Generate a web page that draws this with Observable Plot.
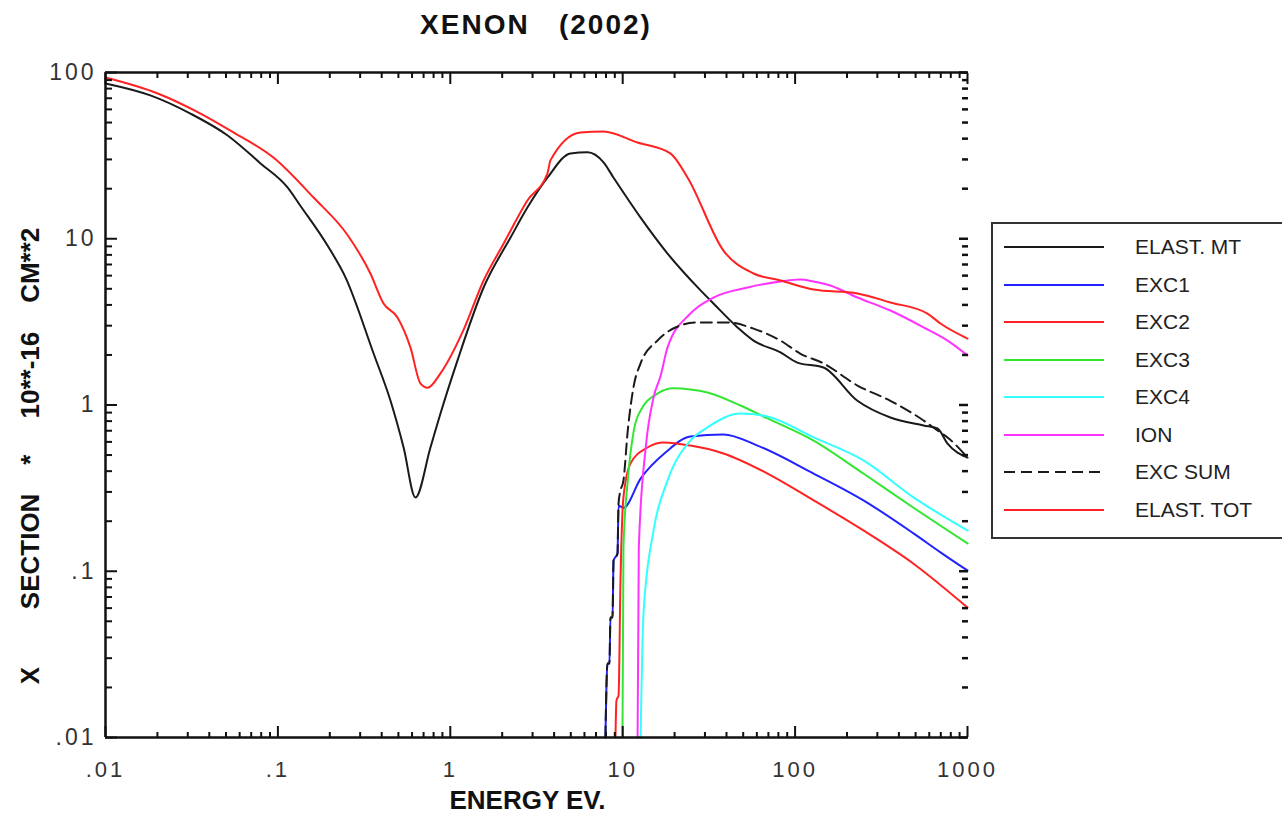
<!DOCTYPE html>
<html>
<head>
<meta charset="utf-8">
<script src="https://cdn.jsdelivr.net/npm/d3@7"></script>
<script src="https://cdn.jsdelivr.net/npm/@observablehq/plot@0.6"></script>
<style>
  body { margin: 0; background: #fff; font-family: "Liberation Sans", Arial, sans-serif; }
  #wrap { position: relative; width: 1282px; height: 819px; overflow: hidden; }
  #title { position: absolute; left: 0; width: 1072px; top: 9px; text-align: center; font-weight: bold; font-size: 28px; letter-spacing: 2px; white-space: pre; color: #111; }
  #plot { position: absolute; left: 0; top: 50px; }
  #legend { position: absolute; left: 991px; top: 222px; width: 290px; height: 313px; border: 2px solid #333; box-sizing: content-box; }
  .row { position: absolute; left: 0; height: 20px; }
  .row svg { position: absolute; left: 10px; top: 0; }
  .row span { position: absolute; left: 142px; top: -2px; font-size: 21px; color: #222; white-space: nowrap; }
  g[aria-label="x-axis tick label"] text { letter-spacing: 3px; }
  g[aria-label="y-axis tick label"] text { letter-spacing: 3px; }
</style>
</head>
<body>
<div id="wrap">
  <div id="title"></div>
  <div id="plot"></div>
  <div id="legend"></div>
</div>
<script>
// ---- texts ----
const sp = n => "\u00A0".repeat(n);
const titleText = "XENON" + sp(3) + "(2002)";
const xTitle = "ENERGY EV.";
const yTitle = "X" + sp(8) + "SECTION" + sp(4) + "*" + sp(5) + "10**-16" + sp(4) + "CM**2";

// ---- tick values and labels ----
const xTickValues = [0.01, 0.1, 1, 10, 100, 1000];
const xTickLabels = [".01", ".1", "1", "10", "100", "1000"];
const yTickValues = [0.01, 0.1, 1, 10, 100];
const yTickLabels = [".01", ".1", "1", "10", "100"];

// ---- series (energy in eV, cross section in 1e-16 cm^2) ----
const seriesNames = ["ELAST. MT", "EXC1", "EXC2", "EXC3", "EXC4", "ION", "EXC SUM", "ELAST. TOT"];
const seriesColors = ["#1a1a1a", "#2222ff", "#ff2222", "#33e633", "#33ffff", "#ff33ff", "#1a1a1a", "#ff2222"];
const seriesDash = [null, null, null, null, null, null, "11,6", null];

const mtE = [0.01,0.0182,0.0311,0.0511,0.0793,0.114,0.135,0.194,0.247,0.359,0.450,0.536,0.628,0.767,0.877,1.10,1.56,2.24,2.80,3.66,4.98,6.25,7.74,8.85,12.7,18.2,28.3,33.6,46.3,57.4,82.3,103,146,230,357,556,670,766,1000];
const mtV = [85.9,72.8,56.6,41.8,28.4,20.3,15.8,9.1,5.84,2.04,1.06,0.555,0.278,0.555,0.889,1.85,5.09,10.2,15.4,23.3,32.6,33.1,28.8,23.3,13.4,8.15,4.89,4.08,2.93,2.44,2.07,1.80,1.68,1.06,0.841,0.753,0.722,0.586,0.483];

const exc1E = [7.94,8.16,8.38,8.49,8.73,8.85,9.33,9.46,10.1,12.7,17.7,24.7,38.4,60.5,128,249,486,697,1000];
const exc1V = [0.01,0.0279,0.0279,0.0527,0.0527,0.116,0.128,0.248,0.241,0.361,0.518,0.647,0.665,0.570,0.387,0.267,0.169,0.130,0.101];

const exc2E = [9.08,9.20,9.46,9.71,10.1,11.1,13.9,17.3,24.7,38.4,69.2,128,249,486,1000];
const exc2V = [0.01,0.0167,0.0179,0.0880,0.278,0.445,0.555,0.595,0.570,0.511,0.387,0.267,0.176,0.111,0.0605];

const exc3E = [9.97,10.1,10.7,11.6,12.7,15.9,19.7,24.7,31.0,48.2,69.2,128,249,486,1000];
const exc3V = [0.01,0.139,0.351,0.703,0.927,1.17,1.26,1.24,1.19,0.993,0.830,0.611,0.387,0.241,0.147];

const exc4E = [12.7,13.2,15.1,18.2,24.7,31.0,48.2,69.2,128,249,486,1000];
const exc4V = [0.01,0.0557,0.176,0.351,0.611,0.733,0.889,0.853,0.638,0.464,0.278,0.176];

const ionE = [12.2,12.4,13.6,15.1,16.6,18.2,24.7,33.6,53.0,82.3,107,128,160,230,357,556,766,1000];
const ionV = [0.01,0.139,0.555,1.11,1.50,2.22,3.55,4.43,5.09,5.53,5.69,5.53,5.23,4.43,3.70,2.93,2.44,1.99];

const sumE = [7.94,8.16,8.38,8.49,8.73,8.85,9.33,9.46,9.71,10.1,10.7,11.6,12.7,15.9,21.6,27.2,40.6,57.4,82.3,107,146,230,357,556,670,766,1000];
const sumV = [0.01,0.0279,0.0279,0.0527,0.0527,0.116,0.128,0.256,0.306,0.351,0.703,1.31,1.78,2.44,3.01,3.14,3.14,2.88,2.44,2.04,1.78,1.31,1.06,0.807,0.703,0.638,0.483];

const totE = [0.01,0.0201,0.0356,0.0552,0.0942,0.161,0.254,0.344,0.410,0.494,0.587,0.671,0.738,0.877,1.19,1.56,2.04,2.80,3.66,3.81,5.69,7.74,12.2,18.9,23.8,38.4,57.4,82.3,128,230,357,586,697,1000];
const totV = [93.3,74.8,56.6,43.6,30.8,17.7,10.5,6.18,4.08,3.36,2.22,1.35,1.27,1.55,2.81,5.61,9.36,17.0,24.7,29.6,43.6,44.2,37.9,32.6,23.3,8.49,6.18,5.61,4.95,4.69,4.14,3.55,3.09,2.51];

const seriesE = [mtE, exc1E, exc2E, exc3E, exc4E, ionE, sumE, totE];
const seriesV = [mtV, exc1V, exc2V, exc3V, exc4V, ionV, sumV, totV];

// ---- build tables ----
const seriesData = seriesNames.map((name, s) =>
  seriesE[s].map((e, i) => ({name, e, v: seriesV[s][i]})));

const minorX = [];
for (let p = -2; p < 3; p++) for (let m = 2; m <= 9; m++) minorX.push(m * Math.pow(10, p));
const minorY = [];
for (let p = -2; p < 2; p++) for (let m = 2; m <= 9; m++) minorY.push(m * Math.pow(10, p));

const fmtX = d => xTickLabels[xTickValues.indexOf(d)];
const fmtY = d => yTickLabels[yTickValues.indexOf(d)];
const blank = () => "";

document.getElementById("title").textContent = titleText;

const lineMarks = seriesData.map((data, s) =>
  Plot.line(data, {x: "e", y: "v", stroke: seriesColors[s], strokeWidth: 2,
    curve: "monotone-x",
    strokeDasharray: seriesDash[s] || undefined, strokeLinejoin: "round"}));

const axisColor = "#111";
const chart = Plot.plot({
  width: 1282,
  height: 769,
  marginTop: 22,
  marginBottom: 82,
  marginLeft: 105,
  marginRight: 315,
  x: {type: "log", domain: [0.01, 1000]},
  y: {type: "log", domain: [0.01, 100]},
  style: {fontFamily: "'Liberation Sans', Arial, sans-serif", color: "#222", background: "white", overflow: "visible"},
  marks: [
    ...lineMarks,
    // frame (left, top, bottom)
    Plot.ruleX([0.01], {stroke: axisColor, strokeWidth: 2.5}),
    Plot.ruleY([0.01], {stroke: axisColor, strokeWidth: 2.5}),
    Plot.ruleY([100], {stroke: axisColor, strokeWidth: 2.5}),
    // inward ticks
    Plot.axisX({anchor: "bottom", ticks: xTickValues, tickSize: -11, tickFormat: blank, label: null, stroke: axisColor, strokeWidth: 2}),
    Plot.axisX({anchor: "bottom", ticks: minorX, tickSize: -5, tickFormat: blank, label: null, stroke: axisColor, strokeWidth: 2}),
    Plot.axisX({anchor: "top", ticks: xTickValues, tickSize: -11, tickFormat: blank, label: null, stroke: axisColor, strokeWidth: 2}),
    Plot.axisX({anchor: "top", ticks: minorX, tickSize: -5, tickFormat: blank, label: null, stroke: axisColor, strokeWidth: 2}),
    Plot.axisY({anchor: "left", ticks: yTickValues, tickSize: -12, tickFormat: blank, label: null, stroke: axisColor, strokeWidth: 2}),
    Plot.axisY({anchor: "left", ticks: minorY, tickSize: -7, tickFormat: blank, label: null, stroke: axisColor, strokeWidth: 2}),
    Plot.axisY({anchor: "right", ticks: yTickValues, tickSize: -9, tickFormat: blank, label: null, stroke: axisColor, strokeWidth: 2.5}),
    Plot.axisY({anchor: "right", ticks: minorY, tickSize: -6, tickFormat: blank, label: null, stroke: axisColor, strokeWidth: 2.5}),
    // tick labels
    Plot.axisX({anchor: "bottom", ticks: xTickValues, tickSize: 0, tickPadding: 24, tickFormat: fmtX, label: null, fontSize: 22, fill: "#333"}),
    Plot.axisY({anchor: "left", ticks: yTickValues, tickSize: 0, tickPadding: 9, tickFormat: fmtY, label: null, fontSize: 23, fill: "#333"}),
    // axis titles
    Plot.text([xTitle], {text: d => d, frameAnchor: "bottom", dx: -9, dy: 71, fontSize: 26, fontWeight: "bold", fill: "#111"}),
    Plot.text([yTitle], {text: d => d, frameAnchor: "left", textAnchor: "middle", dx: -75, dy: 51, rotate: -90, fontSize: 26, fontWeight: "bold", fill: "#111"})
  ]
});
document.getElementById("plot").appendChild(chart);

// ---- legend ----
const legend = document.getElementById("legend");
seriesNames.forEach((name, s) => {
  const row = document.createElement("div");
  row.className = "row";
  row.style.top = (13 + s * 37.5) + "px";
  row.style.width = "290px";
  const svg = d3.create("svg").attr("width", 102).attr("height", 20);
  svg.append("line").attr("x1", 1).attr("x2", 101).attr("y1", 10).attr("y2", 10)
    .attr("stroke", seriesColors[s]).attr("stroke-width", 2.2)
    .attr("stroke-dasharray", seriesDash[s]);
  row.appendChild(svg.node());
  const span = document.createElement("span");
  span.textContent = name;
  row.appendChild(span);
  legend.appendChild(row);
});
</script>
</body>
</html>
